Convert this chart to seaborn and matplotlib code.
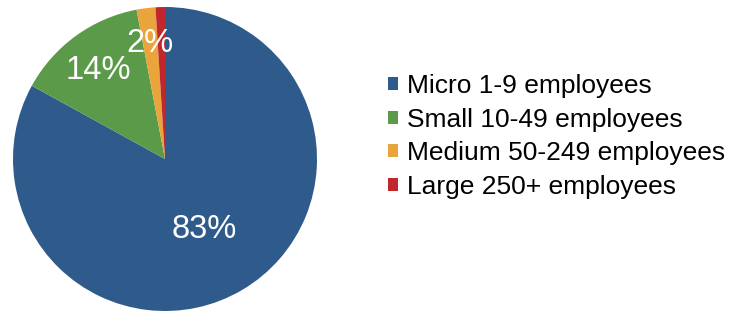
import matplotlib
matplotlib.use('Agg')
import matplotlib.pyplot as plt
import seaborn as sns
import numpy as np

# Enterprise size shares (%)
categories = ['Micro 1-9 employees', 'Small 10-49 employees',
              'Medium 50-249 employees', 'Large 250+ employees']
shares = [83, 14, 2, 1]
pct_labels = ['83%', '14%', '2%', '']
label_radius = [0.51, 0.75, 0.79, 0.8]

sns.set_theme(style='white')
plt.rcParams['font.family'] = ['Liberation Sans', 'DejaVu Sans']

colors = sns.color_palette(['#2E5A8C', '#5B9A49', '#E9A43C', '#C0282D'])

fig = plt.figure(figsize=(7.35, 3.11), dpi=100)
ax = fig.add_axes([13 / 735, 0, 304 / 735, 304 / 311])

wedges, _ = ax.pie(shares, colors=colors, startangle=90, counterclock=False,
                   radius=1, wedgeprops=dict(linewidth=0))
ax.set_xlim(-1, 1)
ax.set_ylim(-1, 1)
ax.set_aspect('equal')
for w in wedges:
    w.set_clip_on(False)

# percentage labels at the wedge mid angles
for w, lab, r in zip(wedges, pct_labels, label_radius):
    mid = np.deg2rad((w.theta1 + w.theta2) / 2)
    ax.text(r * np.cos(mid), r * np.sin(mid), lab, color='white',
            fontsize=23.5, ha='center', va='center_baseline', clip_on=False)

fig.legend(wedges, categories, loc='center left',
           bbox_to_anchor=(388 / 735, (311 - 136.5) / 311),
           frameon=False, fontsize=19, labelcolor='black',
           handlelength=0.38, handleheight=0.38,
           handletextpad=0.34, labelspacing=0.36, borderpad=0,
           borderaxespad=0)

fig.savefig('out.png', dpi=100)
